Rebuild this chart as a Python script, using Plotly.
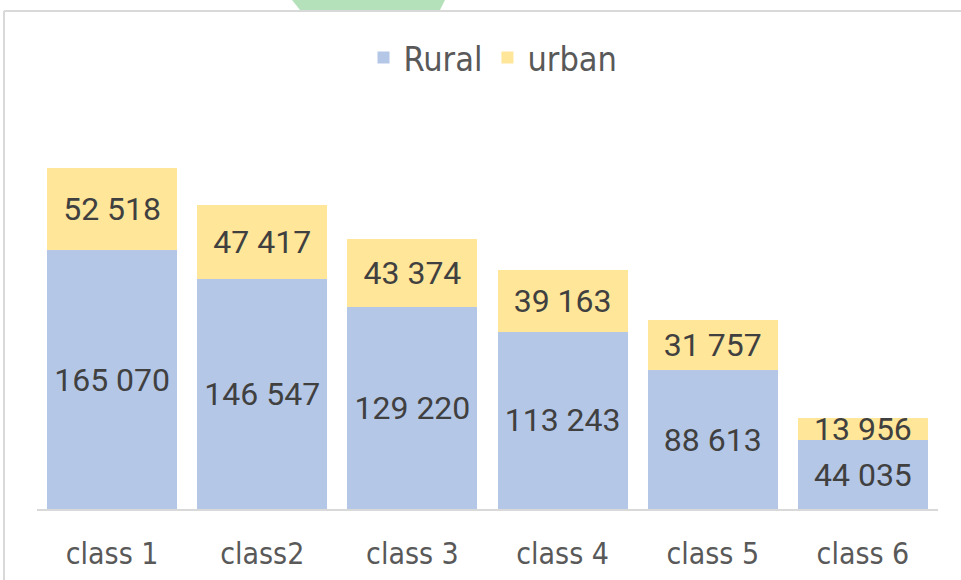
import plotly.graph_objects as go

categories = ["class 1", "class2", "class 3", "class 4", "class 5", "class 6"]
rural = [165070, 146547, 129220, 113243, 88613, 44035]
urban = [52518, 47417, 43374, 39163, 31757, 13956]

def fmt(v):
    return f"{v:,}".replace(",", " ")

label_font = dict(family="Roboto", size=32, color="#404040")
cond = "DejaVu Sans Condensed, DejaVu Sans"

fig = go.Figure()
fig.add_trace(go.Bar(
    name="Rural", x=categories, y=rural, marker=dict(color="#b4c7e7", line=dict(width=0)),
    text=[fmt(v) for v in rural], textposition="inside", insidetextanchor="middle",
    textfont=label_font, hoverinfo="skip",
))
fig.add_trace(go.Bar(
    name="urban", x=categories, y=urban, marker=dict(color="#ffe699", line=dict(width=0)),
    text=[fmt(v) for v in urban], textposition="inside", insidetextanchor="middle",
    textfont=label_font, hoverinfo="skip",
))

W, H = 961, 580
L, R, T, B = 37, 23, 90, 71
pw, ph = W - L - R, H - T - B

def xp(px):
    return (px - L) / pw

def yp(py):
    return (H - B - py) / ph

fig.update_layout(
    width=W, height=H,
    barmode="stack", bargap=0.134,
    margin=dict(l=L, r=R, t=T, b=B, pad=0, autoexpand=False),
    paper_bgcolor="white", plot_bgcolor="white",
    uniformtext=dict(minsize=32, mode="show"),
    showlegend=True,
    legend=dict(orientation="h", x=xp(493), xanchor="center", y=yp(58), yanchor="middle",
                font=dict(family=cond, size=34, color="#595959"),
                itemwidth=30, traceorder="normal", bgcolor="rgba(0,0,0,0)"),
    xaxis=dict(showline=True, linecolor="#d9d9d9", linewidth=2, showgrid=False, zeroline=False,
               ticks="", ticklabelstandoff=17, automargin=False,
               tickfont=dict(family=cond, size=30, color="#595959")),
    yaxis=dict(range=[0, ph / 0.001567], visible=False, showgrid=False, zeroline=False,
               automargin=False),
    shapes=[
        dict(type="line", xref="paper", yref="paper", x0=xp(4), x1=xp(961), y0=yp(11), y1=yp(11),
             line=dict(color="#d9d9d9", width=2)),
        dict(type="line", xref="paper", yref="paper", x0=xp(4), x1=xp(4), y0=yp(11), y1=yp(580),
             line=dict(color="#d9d9d9", width=2)),
        dict(type="path", xref="paper", yref="paper",
             path=f"M {xp(292)} {yp(0)} L {xp(445)} {yp(0)} L {xp(440)} {yp(10)} L {xp(300)} {yp(10)} Z",
             fillcolor="rgba(120,200,130,0.55)", line=dict(width=0), layer="above"),
    ],
)

fig.write_html("out.html", config={"displayModeBar": False},
               post_script="document.body.style.margin='0';")
